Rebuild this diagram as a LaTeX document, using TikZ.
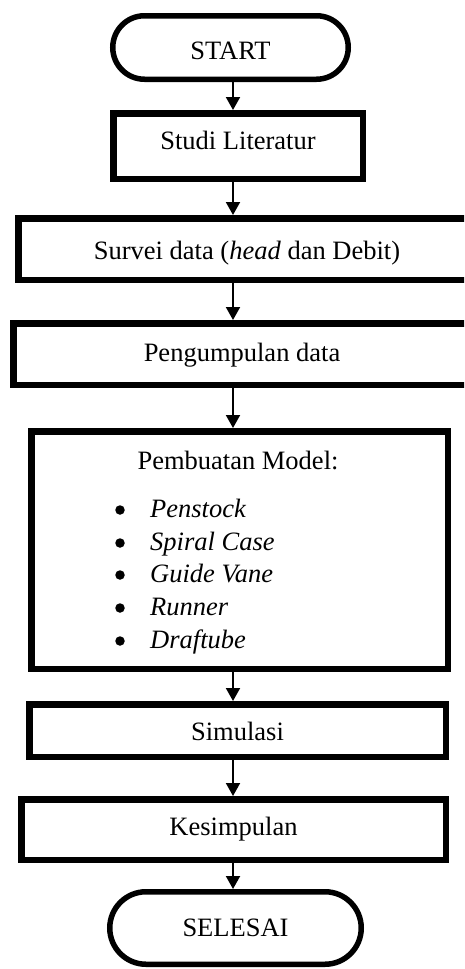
\documentclass[tikz,border=0pt]{standalone}
\usepackage{fontspec}
\setmainfont{Liberation Serif}
\usetikzlibrary{arrows.meta,shapes.misc}
\begin{document}
\begin{tikzpicture}[x=1pt,y=-1pt,
  font=\fontsize{26.5}{32}\selectfont,
  box/.style={draw, line width=6.5pt, rectangle, inner sep=0pt, text height=17.5pt, text depth=0pt},
  term/.style={draw, line width=5.5pt, rounded rectangle, inner sep=0pt, text height=17.5pt, text depth=0pt},
  arr/.style={line width=2pt, -{Triangle[length=13pt,width=14pt]}},
  txt/.style={inner sep=0pt, anchor=base},
  itm/.style={inner sep=0pt, anchor=base west, font=\fontsize{26.5}{32}\selectfont\itshape},
  bul/.style={circle, fill=black, draw=none, minimum size=9.5pt, inner sep=0pt}
]
\path[use as bounding box] (0,0) rectangle (464,969);
\clip (0,0) rectangle (464,969);

\node[term, minimum width=235.5pt, minimum height=63.5pt, text height=23.5pt] (start) at (230.5,47.5) {START};
\node[box, minimum width=249.5pt, minimum height=65.5pt, text depth=10pt] (studi) at (238,146) {Studi Literatur};
\node[box, minimum width=457.5pt, minimum height=61.5pt, text height=21.5pt] (survei) at (247,249) {Survei data (\textit{head} dan Debit)};
\node[box, minimum width=457.5pt, minimum height=61.5pt, text depth=3pt] (kumpul) at (242,354) {Pengumpulan data};
\node[box, minimum width=416.5pt, minimum height=237.5pt] (model) at (239.5,550) {};
\node[box, minimum width=416.5pt, minimum height=52.5pt, text height=19.5pt] (simul) at (237.5,730.5) {Simulasi};
\node[box, minimum width=424.5pt, minimum height=60.5pt, text depth=5pt] (simpul) at (233.5,829.5) {Kesimpulan};
\node[term, minimum width=251.5pt, minimum height=72.5pt] (selesai) at (235.5,928) {SELESAI};

% contents of the model box
\node[txt] (mh) at (238,469) {Pembuatan Model:};
\node[bul] (b1) at (120,510) {};
\node[bul] (b2) at (120,543) {};
\node[bul] (b3) at (120,575) {};
\node[bul] (b4) at (120,608) {};
\node[bul] (b5) at (120,641) {};
\node[itm] (i1) at (150,517) {Penstock};
\node[itm] (i2) at (150,550) {Spiral Case};
\node[itm] (i3) at (150,582) {Guide Vane};
\node[itm] (i4) at (150,615) {Runner};
\node[itm] (i5) at (150,648) {Draftube};

% connectors
\coordinate (ax) at (233,0);
\draw[arr] (start.south -| ax) -- (studi.north -| ax);
\draw[arr] (studi.south -| ax) -- (survei.north -| ax);
\draw[arr] (survei.south -| ax) -- (kumpul.north -| ax);
\draw[arr] (kumpul.south -| ax) -- (model.north -| ax);
\draw[arr] (model.south -| ax) -- (simul.north -| ax);
\draw[arr] (simul.south -| ax) -- (simpul.north -| ax);
\draw[arr] (simpul.south -| ax) -- (selesai.north -| ax);
\end{tikzpicture}
\end{document}
